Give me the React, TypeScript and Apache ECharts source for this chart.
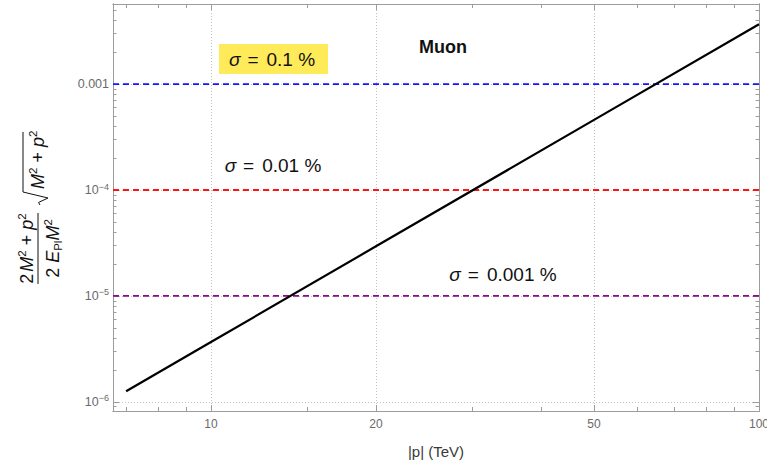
import React, { useEffect, useRef } from "react";
import * as echarts from "echarts";

// ---- data ----
const pValues = [7, 10, 20, 50, 100]; // |p| in TeV
const ratioValues = [1.26e-6, 3.67e-6, 2.94e-5, 4.59e-4, 3.67e-3];

const xDomain = [6.625, 100];
const yDomain = [8.2e-7, 5.7e-3];

const xMajorTicks = [10, 20, 50, 100];
const xTickLabels = ["10", "20", "50", "100"];
const xMinorTicks = [7, 8, 9, 15, 30, 40, 60, 70, 80, 90];

const yMajorTicks = [1e-6, 1e-5, 1e-4, 1e-3];
const yTickLabels = ["10^−6", "10^−5", "10^−4", "0.001"];
const yMinorTicks = [
  9e-7,
  2e-6, 3e-6, 4e-6, 5e-6, 6e-6, 7e-6, 8e-6, 9e-6,
  2e-5, 3e-5, 4e-5, 5e-5, 6e-5, 7e-5, 8e-5, 9e-5,
  2e-4, 3e-4, 4e-4, 5e-4, 6e-4, 7e-4, 8e-4, 9e-4,
  2e-3, 3e-3, 4e-3, 5e-3,
];

const thresholds = [1e-3, 1e-4, 1e-5];
const thresholdColors = ["#1414ff", "#ff1414", "#8a0a8a"];
const thresholdLabels = ["0.1 %", "0.01 %", "0.001 %"];

const title = "Muon";
const xName = "|p| (TeV)";

const L = (v: number) => Math.log10(v);
const FONT = "Liberation Sans, Arial, sans-serif";
const FRAME = "#9c9c9c";
const TICKTXT = "#6a6a6a";

export default function App() {
  const ref = useRef<HTMLDivElement>(null);

  useEffect(() => {
    const chart = echarts.init(ref.current!, null, { renderer: "svg" });

    const xMin = L(xDomain[0]);
    const xMax = L(xDomain[1]);
    const yMin = L(yDomain[0]);
    const yMax = L(yDomain[1]);

    const xAx = (pos: string, ticks: number[], len: number, main: boolean) => ({
      type: "value",
      position: pos,
      min: xMin,
      max: xMax,
      axisLine: { show: true, onZero: false, lineStyle: { color: FRAME, width: 1 } },
      axisTick: {
        show: true,
        inside: true,
        length: len,
        customValues: ticks.map(L),
        lineStyle: { color: FRAME, width: 1 },
      },
      axisLabel: main
        ? {
            show: true,
            customValues: ticks.map(L),
            margin: 7,
            color: TICKTXT,
            fontSize: 12,
            fontFamily: FONT,
            showMinLabel: true,
            showMaxLabel: true,
            hideOverlap: false,
            formatter: (v: number) => {
              const i = xMajorTicks.findIndex((t) => Math.abs(L(t) - v) < 1e-6);
              return i >= 0 ? xTickLabels[i] : "";
            },
          }
        : { show: false },
      splitLine: main
        ? { show: true, lineStyle: { color: "#c2c2c2", width: 1, type: [1, 2] } }
        : { show: false },
      ...(main && pos === "bottom"
        ? {
            name: xName,
            nameLocation: "middle",
            nameGap: 33,
            nameTextStyle: { fontSize: 15, color: "#3a3a3a", fontFamily: FONT },
          }
        : {}),
    });

    const yAx = (pos: string, ticks: number[], len: number, main: boolean) => ({
      type: "value",
      position: pos,
      min: yMin,
      max: yMax,
      axisLine: { show: true, onZero: false, lineStyle: { color: FRAME, width: 1 } },
      axisTick: {
        show: true,
        inside: true,
        length: len,
        customValues: ticks.map(L),
        lineStyle: { color: FRAME, width: 1 },
      },
      axisLabel: main
        ? {
            show: true,
            customValues: ticks.map(L),
            margin: 4,
            color: TICKTXT,
            fontSize: 12.5,
            fontFamily: FONT,
            showMinLabel: true,
            showMaxLabel: true,
            hideOverlap: false,
            formatter: (v: number) => {
              const i = yMajorTicks.findIndex((t) => Math.abs(L(t) - v) < 1e-6);
              if (i < 0) return "";
              const lab = yTickLabels[i];
              if (lab.indexOf("^") >= 0) {
                const [b, e] = lab.split("^");
                return `{b|${b}}{s|${e}}`;
              }
              return `{b|${lab}}`;
            },
            rich: {
              b: { fontSize: 12.5, color: TICKTXT, fontFamily: FONT, lineHeight: 16 },
              s: { fontSize: 9, color: TICKTXT, fontFamily: FONT, lineHeight: 9, verticalAlign: "top" },
            },
          }
        : { show: false },
      splitLine: main
        ? { show: true, lineStyle: { color: "#c2c2c2", width: 1, type: [1, 2] } }
        : { show: false },
    });

    const series: any[] = thresholds.map((t, i) => ({
      type: "line",
      xAxisIndex: 0,
      yAxisIndex: 0,
      data: [
        [xMin, L(t)],
        [xMax, L(t)],
      ],
      symbol: "none",
      silent: true,
      z: 3,
      lineStyle: { color: thresholdColors[i], width: 1.8, type: [6, 4] },
    }));
    series.push({
      type: "line",
      xAxisIndex: 0,
      yAxisIndex: 0,
      data: pValues.map((p, i) => [L(p), L(ratioValues[i])]),
      symbol: "none",
      silent: true,
      z: 5,
      lineStyle: { color: "#000", width: 2.2 },
    });

    const annoRich = {
      i: { fontSize: 19, fontStyle: "italic", fontFamily: FONT, fill: "#111", color: "#111" },
      e: { fontSize: 19, fontFamily: FONT, fill: "#111", color: "#111", padding: [0, 8, 0, 7] },
      n: { fontSize: 19, fontFamily: FONT, fill: "#111", color: "#111" },
    };
    const anno = (x: number, y: number, lab: string) => ({
      type: "text",
      x,
      y,
      z: 20,
      style: {
        text: `{i|σ}{e|=}{n|${lab}}`,
        align: "center",
        verticalAlign: "middle",
        rich: annoRich,
        fontFamily: FONT,
        fontSize: 19,
      },
    });

    // y-axis title (math expression), laid out horizontally then rotated
    const base = { fontSize: 18, fontFamily: FONT, fill: "#111", lineHeight: 22 };
    const mathRich = {
      n: { ...base },
      i: { ...base, fontStyle: "italic" },
      im: { ...base, fontStyle: "italic", padding: [0, 0, 0, 2] },
      s: { fontSize: 11.5, fontFamily: FONT, fill: "#111", lineHeight: 11, verticalAlign: "top" },
      sub: { fontSize: 11.5, fontFamily: FONT, fill: "#111", lineHeight: 11, verticalAlign: "bottom" },
    };
    const yTitle = {
      type: "group",
      x: 38,
      y: 284,
      rotation: Math.PI / 2,
      z: 20,
      children: [
        {
          type: "line",
          shape: { x1: 0, y1: 0, x2: 71, y2: 0 },
          style: { stroke: "#111", lineWidth: 1 },
        },
        {
          type: "text",
          x: 35.5,
          y: -0.5,
          style: {
            text: "{n|2}{im|M}{s|2}{n| + }{i|p}{s|2}",
            align: "center",
            verticalAlign: "bottom",
            rich: mathRich,
          },
        },
        {
          type: "text",
          x: 35.5,
          y: 3.5,
          style: {
            text: "{n|2 }{i|E}{sub|Pl}{i|M}{s|2}",
            align: "center",
            verticalAlign: "top",
            rich: mathRich,
          },
        },
        {
          type: "polyline",
          shape: {
            points: [
              [79, 2],
              [81.5, 0.5],
              [86, 10],
              [92, -15],
              [152, -15],
            ],
          },
          style: { stroke: "#111", lineWidth: 1, fill: null },
        },
        {
          type: "text",
          x: 95,
          y: 11,
          style: {
            text: "{i|M}{s|2}{n| + }{i|p}{s|2}",
            align: "left",
            verticalAlign: "bottom",
            rich: mathRich,
          },
        },
      ],
    };

    const option: any = {
      animation: false,
      backgroundColor: "#ffffff",
      grid: {
        left: 113,
        right: 8,
        top: 4,
        bottom: 53,
        containLabel: false,
        outerBoundsMode: "none",
      },
      xAxis: [
        xAx("bottom", xMajorTicks, 6, true),
        xAx("bottom", xMinorTicks, 4, false),
        xAx("top", xMajorTicks, 6, false),
        xAx("top", xMinorTicks, 4, false),
      ],
      yAxis: [
        yAx("left", yMajorTicks, 6, true),
        yAx("left", yMinorTicks, 3.5, false),
        yAx("right", yMajorTicks, 6, false),
        yAx("right", yMinorTicks, 3.5, false),
      ],
      series,
      graphic: [
        {
          type: "rect",
          shape: { x: 219, y: 44, width: 109, height: 30 },
          style: { fill: "#ffea5a" },
          z: 19,
        },
        anno(272, 59, thresholdLabels[0]),
        anno(273, 165, thresholdLabels[1]),
        anno(503, 274, thresholdLabels[2]),
        {
          type: "text",
          x: 443,
          y: 47,
          z: 20,
          style: {
            text: title,
            align: "center",
            verticalAlign: "middle",
            fontSize: 18,
            fontWeight: "bold",
            fontFamily: FONT,
            fill: "#111",
          },
        },
        yTitle,
      ],
    };

    chart.setOption(option);
    return () => chart.dispose();
  }, []);

  return (
    <div
      ref={ref}
      style={{ position: "fixed", left: 0, top: 0, width: 767, height: 464 }}
    />
  );
}
